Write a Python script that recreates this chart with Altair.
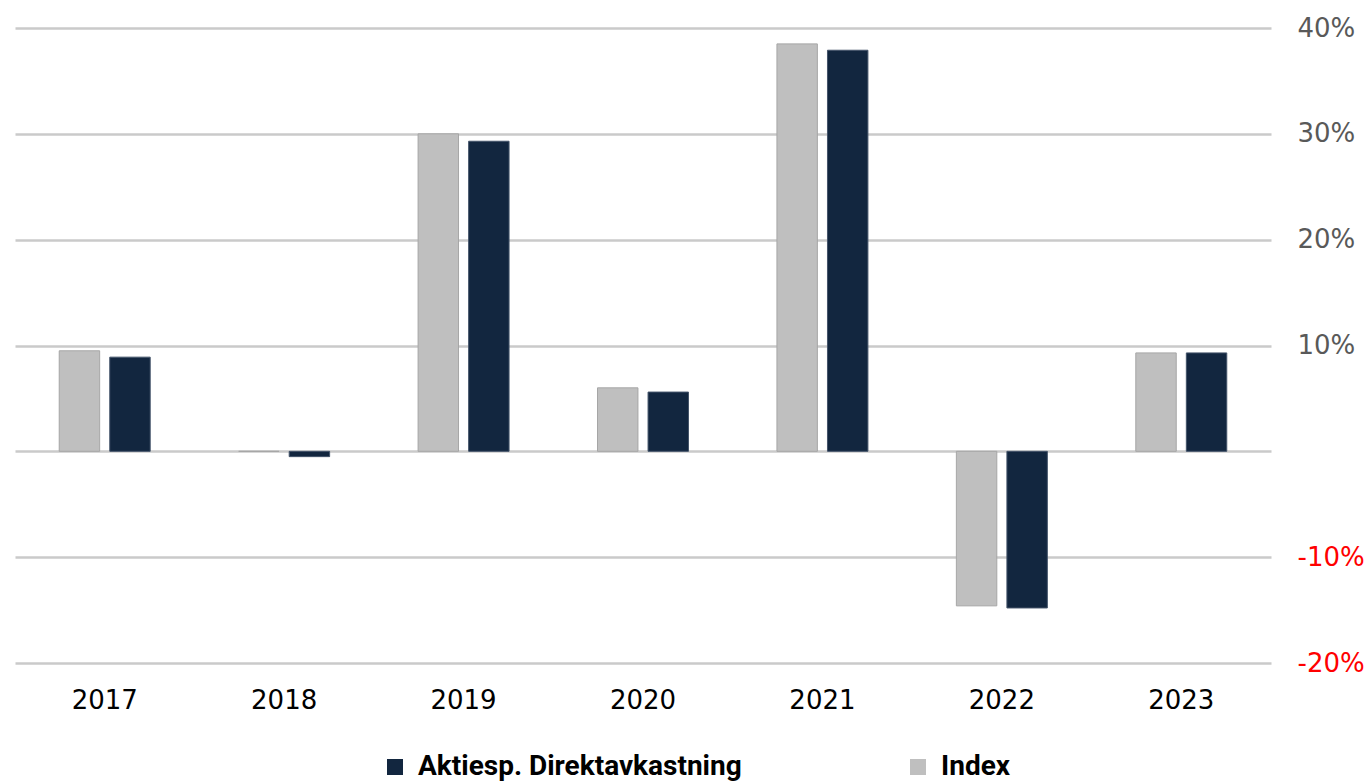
import altair as alt
import pandas as pd

years = ["2017", "2018", "2019", "2020", "2021", "2022", "2023"]
index_vals = [9.5, 0.0, 30.0, 6.0, 38.5, -14.6, 9.3]
aktie_vals = [8.9, -0.5, 29.3, 5.6, 37.9, -14.8, 9.3]

s_aktie = "Aktiesp. Direktavkastning"
s_index = "Index"

rows = []
for y, iv, av in zip(years, index_vals, aktie_vals):
    rows.append({"year": y, "series": s_index, "value": iv})
    rows.append({"year": y, "series": s_aktie, "value": av})
df = pd.DataFrame(rows)

label_font = "DejaVu Sans"

chart = alt.Chart(df).mark_bar(strokeWidth=1).encode(
    x=alt.X("year:N", sort=years,
            scale=alt.Scale(paddingInner=0.493, paddingOuter=0.2465),
            axis=alt.Axis(title=None, labelAngle=0, domain=False, ticks=False,
                          labelPadding=24, labelFontSize=26, labelFont=label_font,
                          labelColor="#000000", grid=False)),
    xOffset=alt.XOffset("series:N", sort=[s_index, s_aktie],
                        scale=alt.Scale(paddingInner=0.2, paddingOuter=0)),
    y=alt.Y("value:Q",
            scale=alt.Scale(domain=[-20, 40], nice=False),
            axis=alt.Axis(title=None, orient="right", values=[-20, -10, 0, 10, 20, 30, 40],
                          domain=False, ticks=False, labelPadding=26,
                          labelAlign="left", labelFontSize=26, labelFont=label_font,
                          labelExpr="datum.value == 0 ? '' : datum.value + '%'",
                          labelColor={"condition": {"test": "datum.value < 0", "value": "#ff0000"},
                                      "value": "#595959"},
                          grid=True, gridColor="#cacaca", gridWidth=2.5)),
    color=alt.Color("series:N",
                    scale=alt.Scale(domain=[s_aktie, s_index], range=["#12263f", "#bfbfbf"]),
                    legend=alt.Legend(title=None, orient="none", legendX=366, legendY=725,
                                      direction="horizontal", symbolType="square",
                                      symbolSize=256, symbolStrokeWidth=0,
                                      labelFont="Roboto", labelFontWeight="bold",
                                      labelFontSize=28, labelColor="#000000",
                                      labelOffset=9, columnPadding=162, labelLimit=500)),
    stroke=alt.Stroke("series:N",
                      scale=alt.Scale(domain=[s_aktie, s_index], range=["#44546a", "#a6a6a6"]),
                      legend=None),
).properties(
    width=1256, height=635,
    autosize="none",
    padding={"left": 15, "top": 28, "right": 100, "bottom": 118},
).configure_view(stroke=None)

chart.save("out.html", embed_options={"renderer": "svg", "actions": False})
